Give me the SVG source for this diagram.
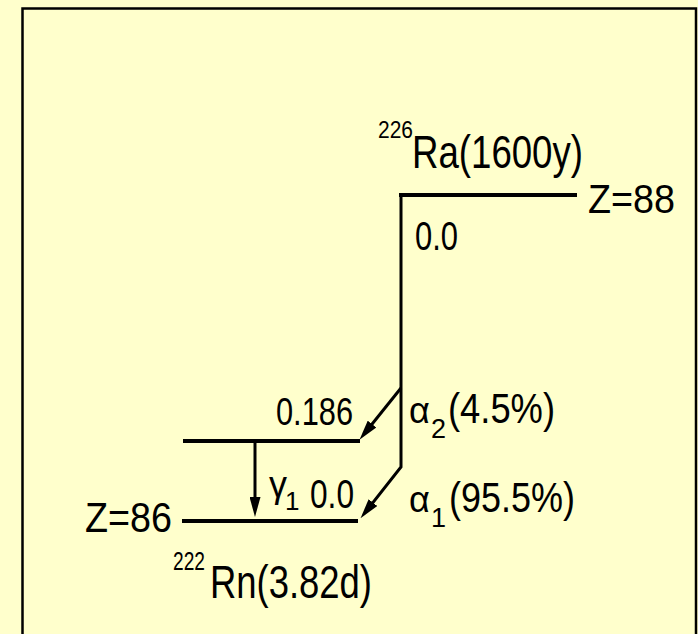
<svg xmlns="http://www.w3.org/2000/svg" width="698" height="634" viewBox="0 0 698 634">
<style>
  .t{font-family:"Liberation Sans",Arial,sans-serif;fill:#000}
  .lvl{stroke:#000;stroke-width:4;fill:none}
  .con{stroke:#000;stroke-width:3;fill:none;stroke-linejoin:miter}
</style>
<defs>
  <marker id="ah" markerUnits="userSpaceOnUse" viewBox="0 0 20 11" markerWidth="20" markerHeight="11" refX="12" refY="5.5" orient="auto">
    <path d="M0,0 L20,5.5 L0,11 z" fill="#000"/>
  </marker>
</defs>
<rect x="0" y="0" width="698" height="634" fill="#FFFFCC"/>
<rect x="22.5" y="8.5" width="673.5" height="640" fill="none" stroke="#000" stroke-width="2.5"/>

<g id="ra226">
  <line class="lvl" x1="399" y1="195" x2="577" y2="195"/>
  <text class="t" x="378" y="138" font-size="23" textLength="35" lengthAdjust="spacingAndGlyphs">226</text>
  <text class="t" x="412" y="168" font-size="47" textLength="171" lengthAdjust="spacingAndGlyphs">Ra(1600y)</text>
  <text class="t" x="588" y="213" font-size="40" textLength="87" lengthAdjust="spacingAndGlyphs">Z=88</text>
  <text class="t" x="415" y="250" font-size="40" textLength="43" lengthAdjust="spacingAndGlyphs">0.0</text>
</g>

<g id="rn222-excited">
  <line class="lvl" x1="183" y1="441" x2="360" y2="441"/>
  <text class="t" x="276" y="425" font-size="39" textLength="77" lengthAdjust="spacingAndGlyphs">0.186</text>
</g>

<g id="rn222-ground">
  <line class="lvl" x1="182" y1="521" x2="358" y2="521"/>
  <text class="t" x="310" y="508" font-size="40" textLength="44" lengthAdjust="spacingAndGlyphs">0.0</text>
  <text class="t" x="85" y="532" font-size="42" textLength="87" lengthAdjust="spacingAndGlyphs">Z=86</text>
  <text class="t" x="173" y="570" font-size="25" textLength="32" lengthAdjust="spacingAndGlyphs">222</text>
  <text class="t" x="210" y="598" font-size="47" textLength="162" lengthAdjust="spacingAndGlyphs">Rn(3.82d)</text>
</g>

<g id="connectors">
  <path class="con" d="M401,194 L401,467 L365.5,512" marker-end="url(#ah)"/>
  <path class="con" d="M401,388 L364.5,433.5" marker-end="url(#ah)"/>
  <path class="con" stroke-width="2.5" d="M255,441 L255,509" marker-end="url(#ah)"/>
  <text class="t" x="409" y="423" font-size="36">α<tspan x="431" y="438" font-size="27">2</tspan><tspan x="448" y="423" font-size="42" textLength="107" lengthAdjust="spacingAndGlyphs">(4.5%)</tspan></text>
  <text class="t" x="409" y="512" font-size="36">α<tspan x="431" y="527" font-size="27">1</tspan><tspan x="449" y="512" font-size="42" textLength="126" lengthAdjust="spacingAndGlyphs">(95.5%)</tspan></text>
  <text class="t" x="269" y="497" font-size="36">γ<tspan x="285" y="510" font-size="26">1</tspan></text>
</g>
</svg>
